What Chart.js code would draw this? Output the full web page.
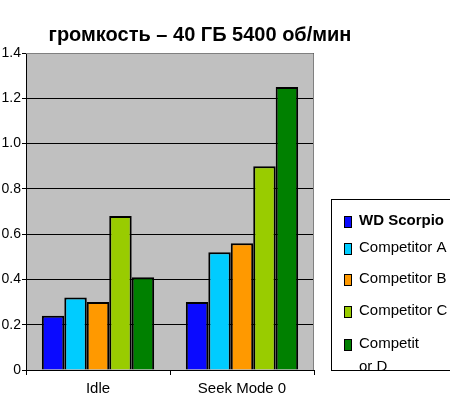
<!DOCTYPE html>
<html>
<head>
<meta charset="utf-8">
<script src="https://cdn.jsdelivr.net/npm/chart.js@4"></script>
<style>
  html, body { margin: 0; padding: 0; background: #fff; }
  #wrap { width: 450px; height: 405px; position: relative; }
</style>
</head>
<body>
<div id="wrap"><canvas id="grafik" width="450" height="405"></canvas></div>
<script>
// данные
const kategorii = ['Idle', 'Seek Mode 0'];
const seriiNazv = ['WD Scorpio', 'Competitor A', 'Competitor B', 'Competitor C', 'Competitor D'];
const wdScorpio = [0.24, 0.30];
const competitorA = [0.32, 0.52];
const competitorB = [0.30, 0.56];
const competitorC = [0.68, 0.90];
const competitorD = [0.41, 1.25];
const yTicks = [0, 0.2, 0.4, 0.6, 0.8, 1.0, 1.2, 1.4];
const zagolovok = 'громкость – 40 ГБ 5400 об/мин';

const cveta = ['#0a0aff', '#00ccff', '#ff9900', '#99cc00', '#008000'];
const legendTexty = [['WD Scorpio'], ['Competitor A'], ['Competitor B'], ['Competitor C'], ['Competit', 'or D']];

// фон области графика и рамка
const fonPlugin = {
  id: 'fon',
  beforeDraw(chart) {
    const { ctx, chartArea: a } = chart;
    ctx.save();
    ctx.fillStyle = '#c0c0c0';
    ctx.fillRect(a.left, a.top, a.right - a.left, a.bottom - a.top);
    ctx.restore();
  },
  afterDatasetsDraw(chart) {
    const { ctx, chartArea: a } = chart;
    ctx.save();
    ctx.strokeStyle = '#808080';
    ctx.lineWidth = 1;
    ctx.beginPath();
    ctx.moveTo(a.left, a.top + 0.5);
    ctx.lineTo(a.right - 0.5, a.top + 0.5);
    ctx.lineTo(a.right - 0.5, a.bottom);
    ctx.stroke();
    ctx.restore();
  }
};

// заголовок и легенда
const tekstPlugin = {
  id: 'tekst',
  afterDraw(chart) {
    const { ctx } = chart;
    ctx.save();
    ctx.fillStyle = '#000';
    ctx.font = 'bold 20px "Liberation Sans", Arial, sans-serif';
    ctx.textAlign = 'center';
    ctx.textBaseline = 'middle';
    ctx.fillText(zagolovok, 200, 35);

    // рамка легенды
    const bx = 331, by = 199, bw = 122, bh = 171;
    ctx.fillStyle = '#fff';
    ctx.fillRect(bx, by, bw, bh);
    ctx.strokeStyle = '#000';
    ctx.lineWidth = 1;
    ctx.strokeRect(bx + 0.5, by + 0.5, bw, bh);
    ctx.beginPath();
    ctx.rect(bx + 1, by + 1, bw - 1, bh - 1);
    ctx.clip();

    const yc = [221, 248, 279, 311, 344];
    chart.data.datasets.forEach((ds, i) => {
      ctx.fillStyle = ds.backgroundColor;
      ctx.fillRect(345, yc[i] - 4, 6, 10);
      ctx.strokeStyle = '#000';
      ctx.strokeRect(344.5, yc[i] - 4.5, 7, 11);
      ctx.fillStyle = '#000';
      ctx.textAlign = 'left';
      ctx.font = (i === 0 ? 'bold 15px' : '15px') + ' "Liberation Sans", Arial, sans-serif';
      legendTexty[i].forEach((t, j) => ctx.fillText(t, 359, yc[i] + j * 23));
    });
    ctx.restore();
  }
};

const nabory = [wdScorpio, competitorA, competitorB, competitorC, competitorD].map((d, i) => ({
  label: seriiNazv[i],
  data: d,
  backgroundColor: cveta[i],
  borderColor: '#000',
  borderWidth: 2,
  borderSkipped: 'bottom',
  barPercentage: 1.0,
  categoryPercentage: 0.78
}));

new Chart(document.getElementById('grafik'), {
  type: 'bar',
  data: { labels: kategorii, datasets: nabory },
  options: {
    responsive: false,
    animation: false,
    layout: { padding: { top: 53, right: 136, left: 0, bottom: 0 } },
    plugins: {
      legend: { display: false },
      title: { display: false },
      tooltip: { enabled: false }
    },
    scales: {
      x: {
        afterFit(s) { s.height = 35; },
        grid: {
          offset: true,
          drawOnChartArea: false,
          color: '#000',
          tickLength: 5
        },
        border: { color: '#000', width: 1 },
        ticks: {
          color: '#000',
          padding: 5,
          font: { family: '"Liberation Sans", Arial, sans-serif', size: 15 }
        }
      },
      y: {
        min: 0,
        max: 1.4,
        afterFit(s) { s.width = 26; },
        afterBuildTicks(s) { s.ticks = yTicks.map(v => ({ value: v })); },
        grid: {
          color: '#000',
          tickLength: 4,
          drawOnChartArea: true
        },
        border: { color: '#000', width: 1 },
        ticks: {
          color: '#000',
          padding: 1,
          callback: v => (v === 0 ? '0' : v.toFixed(1)),
          font: { family: '"Liberation Sans", Arial, sans-serif', size: 14 }
        }
      }
    }
  },
  plugins: [fonPlugin, tekstPlugin]
});
</script>
</body>
</html>
